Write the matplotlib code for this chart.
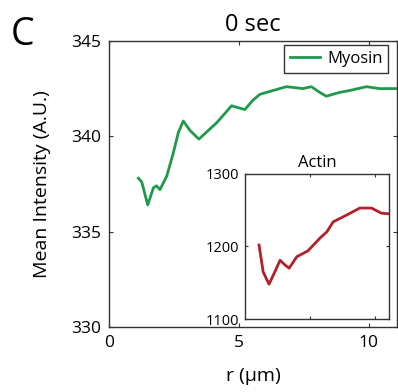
import numpy as np
import matplotlib.pyplot as plt

plt.rcParams['font.family'] = ['Open Sans', 'DejaVu Sans']

# myosin profile (main axes)
r_myo = [1.13, 1.26, 1.49, 1.71, 1.83, 1.96, 2.22, 2.47, 2.67, 2.86, 3.12, 3.46,
         3.82, 4.14, 4.40, 4.72, 4.97, 5.23, 5.55, 5.81, 6.32, 6.83, 7.47, 7.79,
         8.12, 8.37, 8.88, 9.27, 9.91, 10.42, 11.06]
myosin = [337.8, 337.6, 336.4, 337.3, 337.4, 337.2, 337.9, 339.1, 340.2, 340.8, 340.3, 339.85,
          340.3, 340.7, 341.1, 341.6, 341.5, 341.4, 341.9, 342.2, 342.4, 342.6, 342.5, 342.6,
          342.3, 342.1, 342.3, 342.4, 342.6, 342.5, 342.5]

# actin profile (inset)
r_act = [1.08, 1.4, 1.85, 2.3, 2.7, 3.05, 3.4, 4.0, 4.85, 5.8, 6.3, 6.8, 7.8, 8.85, 9.75, 10.5, 11.1]
actin = [1202, 1165, 1148, 1165, 1181, 1175, 1170, 1186, 1194, 1212, 1220, 1234, 1243, 1253, 1253, 1246, 1245]

green = '#1f9a4c'
red = '#b3202a'
edge = '#333333'

fig = plt.figure(figsize=(3.98, 3.92), dpi=100)
ax = fig.add_axes([0.274, 0.166, 0.724, 0.7296])
ax.plot(r_myo, myosin, color=green, lw=2.0, label='Myosin')
ax.set_xlim(0, 11.1)
ax.set_ylim(330, 345)
ax.set_xticks([0, 5, 10])
ax.set_yticks([330, 335, 340, 345])
ax.tick_params(direction='in', length=3, width=0.8, color=edge, labelsize=12.5,
               top=True, right=True, pad=6)
for s in ax.spines.values():
    s.set_color(edge)
    s.set_linewidth(1.0)
ax.set_xlabel('r (µm)', fontsize=14, labelpad=11)
ax.set_ylabel('Mean Intensity (A.U.)', fontsize=14, labelpad=14)
ax.set_title('0 sec', fontsize=17, pad=7)
leg = ax.legend(loc='upper right', bbox_to_anchor=(0.969, 0.986), fontsize=12,
                fancybox=False, framealpha=1, edgecolor=edge, handlelength=1.8,
                handletextpad=0.4, borderpad=0.35, borderaxespad=0)
leg.get_frame().set_linewidth(1.0)

fig.text(0.028, 0.885, 'C', fontsize=27)

ins = fig.add_axes([0.6156, 0.1862, 0.3618, 0.370])
ins.plot(r_act, actin, color=red, lw=2.0)
ins.set_xlim(0, 11.1)
ins.set_ylim(1100, 1300)
ins.set_xticks([5, 10])
ins.set_xticklabels([])
ins.set_yticks([1100, 1200, 1300])
ins.tick_params(direction='in', length=2.5, width=0.8, color=edge, labelsize=10.5,
                top=True, right=True, pad=4)
for s in ins.spines.values():
    s.set_color(edge)
    s.set_linewidth(1.0)
ins.set_title('Actin', fontsize=12, pad=5)

fig.savefig('out.png', dpi=100)
